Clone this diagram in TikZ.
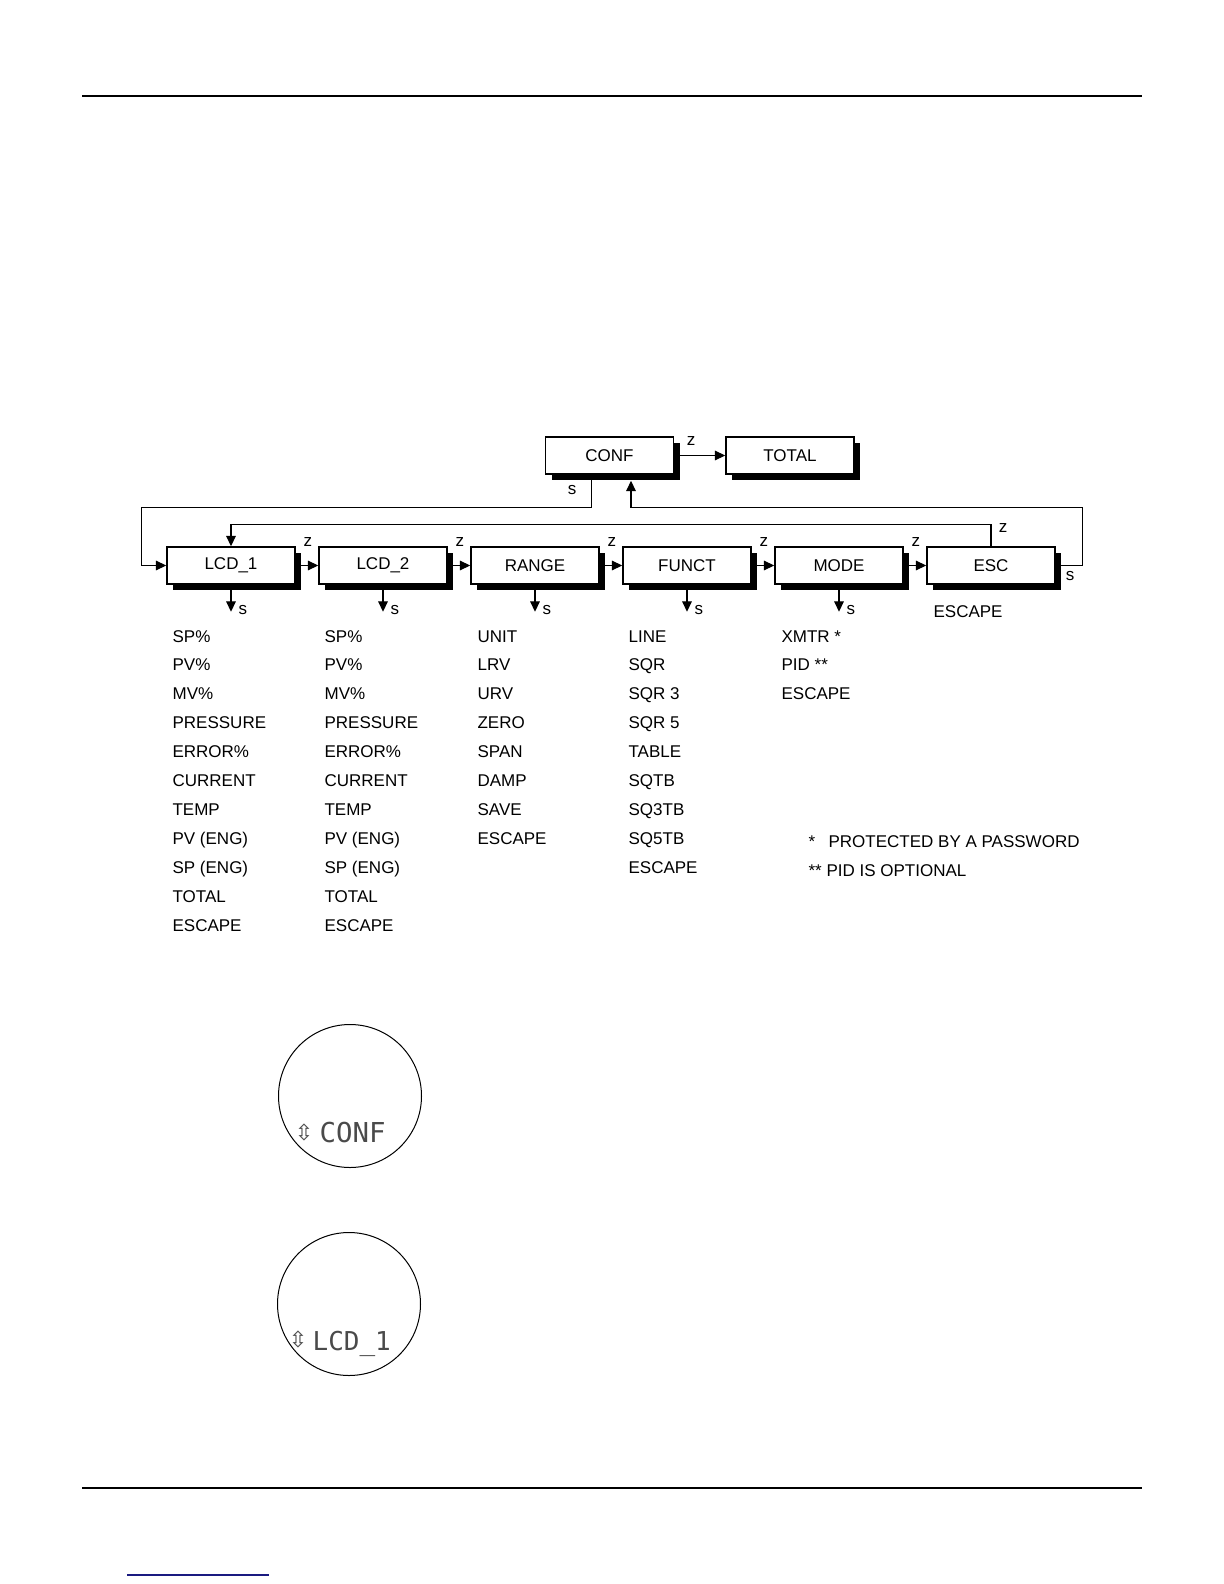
\documentclass[tikz,border=0pt]{standalone}
\usepackage{fontspec}
\setmainfont{Liberation Sans}
\newfontfamily\lcdfont{DejaVu Sans Mono}
\newfontfamily\symfont{DejaVu Sans}
\usepackage{tikz}
\usetikzlibrary{arrows.meta,shadows}
\definecolor{linkBlue}{HTML}{1A1A80}
\definecolor{lcdGray}{HTML}{4A4A4A}

\tikzset{
  menubox/.style={draw, fill=white, line width=0.75pt, minimum width=64pt,
    minimum height=18.5pt, inner sep=0pt,
    drop shadow={shadow xshift=3pt, shadow yshift=-3pt, opacity=1, fill=black}},
  lbl/.style={inner sep=0pt},
  entry/.style={anchor=base west, inner sep=0pt},
  lcdtext/.style={anchor=base west, inner sep=0pt, text=lcdGray,
    font=\lcdfont\fontsize{13.7}{14}\selectfont}
}

\begin{document}
\begin{tikzpicture}[x=0.5pt, y=-0.5pt, >={Triangle[length=5.2pt,width=4.8pt]},
    line width=0.6pt, font=\fontsize{8.5}{10}\selectfont]

    \useasboundingbox (0,0) rectangle (1224,1584);

    % page rules
    \draw[line width=1pt] (82,96) -- (1142,96);
    \draw[line width=0.8pt] (82,1488) -- (1142,1488);
    \draw[linkBlue, line width=1pt] (127,1575) -- (269,1575);

    % top level
    \node[menubox] (conf) at (609.5,455.5) {CONF};
    \node[menubox] (total) at (790,455.5) {TOTAL};
    \draw[->] (conf) -- (total);
    \node[lbl] (zConf) at (691,441) {z};

    % menu row
    \foreach \nm/\txt [count=\i from 0] in {lcd1/LCD\_1, lcd2/LCD\_2, range/RANGE,
        funct/FUNCT, mode/MODE, esc/ESC}
        \node[menubox] (\nm) at (231+152*\i,565.5) {\txt};

    \foreach \a/\b [count=\i] in {lcd1/lcd2, lcd2/range, range/funct, funct/mode, mode/esc} {
        \draw[->] (\a.east) -- (\b.west);
        \node[lbl] (z\i) at ([xshift=6pt,yshift=11.5pt]\a.east) {z};
    }

    % s keys going down
    \foreach \a [count=\i] in {lcd1, lcd2, range, funct, mode}
        \draw[->] (\a.south) -- ++(0,27) node[lbl, right=3.5pt, yshift=1pt] (s\i) {s};

    % loops
    \draw[->] ([xshift=-9pt]conf.south) -- ++(0,33) -| ([xshift=-12.5pt]lcd1.west) -- (lcd1.west);
    \node[lbl] (sConf) at (572,490) {s};
    \draw[->] (esc.north) -- ++(0,-22) -| (lcd1.north);
    \node[lbl] (zEsc) at (1003,528) {z};
    \draw[->] (esc.east) -- ++(27,0) |- ([xshift=10.75pt,yshift=-16.5pt]conf.south)
        -- ([xshift=10.75pt,yshift=-3pt]conf.south);
    \node[lbl] (sEsc) at (1070,576) {s};

    % sub menus
    \foreach \entryTxt [count=\k from 0] in {SP\%, PV\%, MV\%, PRESSURE, ERROR\%, CURRENT,
        TEMP, PV (ENG), SP (ENG), TOTAL, ESCAPE} {
        \node[entry] (la\k) at (172,642+28.9*\k) {\entryTxt};
        \node[entry] (lb\k) at (324,642+28.9*\k) {\entryTxt};
    }
    \foreach \entryTxt [count=\k from 0] in {UNIT, LRV, URV, ZERO, SPAN, DAMP, SAVE, ESCAPE}
        \node[entry] (rg\k) at (477,642+28.9*\k) {\entryTxt};
    \foreach \entryTxt [count=\k from 0] in {LINE, SQR, SQR 3, SQR 5, TABLE, SQTB, SQ3TB,
        SQ5TB, ESCAPE}
        \node[entry] (fn\k) at (628,642+28.9*\k) {\entryTxt};
    \foreach \entryTxt [count=\k from 0] in {XMTR *, PID **, ESCAPE}
        \node[entry] (md\k) at (781,642+28.9*\k) {\entryTxt};
    \node[entry] (escItem) at (933,617) {ESCAPE};

    % notes
    \node[entry] (note1) at (808,847) {\makebox[10pt][l]{*}PROTECTED BY A PASSWORD};
    \node[entry] (note2) at (808,876) {** PID IS OPTIONAL};

    % displays
    \node[draw, circle, minimum size=71.5pt, inner sep=0pt, line width=0.5pt] (disp1) at (350,1096) {};
    \node[lbl, text=lcdGray, font=\symfont\fontsize{11}{12}\selectfont] (arr1) at (304,1132) {⇳};
    \node[lcdtext] (txt1) at (319,1142) {CONF};

    \node[draw, circle, minimum size=71.5pt, inner sep=0pt, line width=0.5pt] (disp2) at (349,1304) {};
    \node[lbl, text=lcdGray, font=\symfont\fontsize{11}{12}\selectfont] (arr2) at (298,1339) {⇳};
    \node[lcdtext, font=\lcdfont\fontsize{13}{14}\selectfont] (txt2) at (312,1350) {LCD\_1};

\end{tikzpicture}
\end{document}
